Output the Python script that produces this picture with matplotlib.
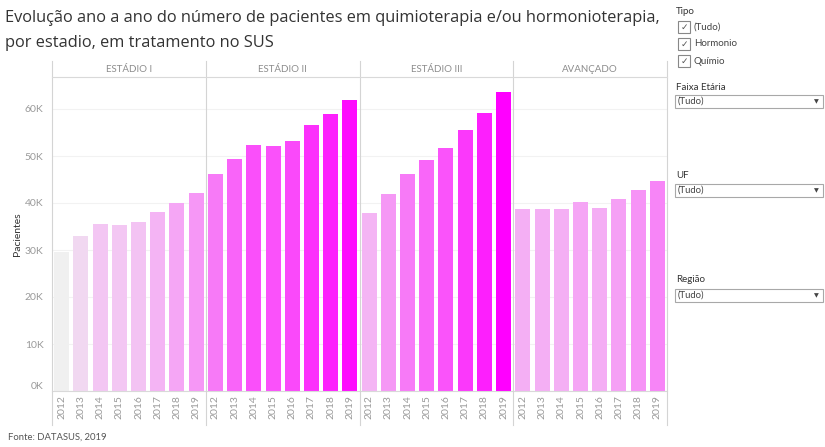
import matplotlib
matplotlib.use("Agg")
import matplotlib.pyplot as plt
import numpy as np
from matplotlib.colors import LinearSegmentedColormap, Normalize
from matplotlib.patches import Rectangle
from matplotlib.lines import Line2D

plt.rcParams['font.family'] = ['Lato', 'DejaVu Sans']

stages = ["ESTÁDIO I", "ESTÁDIO II", "ESTÁDIO III", "AVANÇADO"]
years = ["2012", "2013", "2014", "2015", "2016", "2017", "2018", "2019"]
estadio_1 = [29.5, 32.9, 35.5, 35.4, 36.0, 38.1, 40.1, 42.2]
estadio_2 = [46.2, 49.4, 52.3, 52.1, 53.2, 56.7, 58.9, 62.0]
estadio_3 = [37.9, 42.0, 46.2, 49.1, 51.8, 55.6, 59.1, 63.6]
avancado = [38.8, 38.8, 38.8, 40.2, 39.0, 40.9, 42.7, 44.7]
yticks = [0, 10, 20, 30, 40, 50, 60]
ytick_labels = ["0K", "10K", "20K", "30K", "40K", "50K", "60K"]

series = [estadio_1, estadio_2, estadio_3, avancado]
all_vals = np.concatenate([np.array(s) for s in series]) * 1000

W, H = 825, 447
fig = plt.figure(figsize=(W / 100, H / 100), dpi=100)

def fx(px):
    return px / W

def fy(py):
    return 1 - py / H

# Plot area
L, R, T, B = 52, 667, 77, 391
ax = fig.add_axes([fx(L), fy(B), fx(R) - fx(L), fy(T) - fy(B)])

cmap = LinearSegmentedColormap.from_list("tab", ["#f0f0f0", "#ff00ff"])
norm = Normalize(vmin=all_vals.min(), vmax=all_vals.max())

n = len(years)
for si, s in enumerate(series):
    xs = np.arange(n) + si * n
    vals = np.array(s) * 1000
    ax.bar(xs, vals, width=0.78, color=cmap(norm(vals)), edgecolor='none', zorder=2)

ax.set_xlim(-0.5, len(series) * n - 0.5)
ax.set_ylim(0, (B - T) / 4.7 * 1000)
ax.set_yticks([v * 1000 for v in yticks])
ax.set_yticklabels(ytick_labels)
ax.tick_params(axis='y', length=0, labelsize=7.5, labelcolor='#9a9a9a', pad=6)
ax.get_yticklabels()[0].set_va('bottom')
ax.yaxis.grid(True, color='#f2f2f2', linewidth=0.8, zorder=0)
ax.set_axisbelow(True)
ax.set_xticks(np.arange(len(series) * n))
ax.set_xticklabels(years * len(series), rotation=90)
ax.tick_params(axis='x', length=0, labelsize=7.5, labelcolor='#9a9a9a', pad=3)
for sp in ['top', 'right', 'left']:
    ax.spines[sp].set_visible(False)
ax.spines['bottom'].set_color('#d9d9d9')
ax.spines['bottom'].set_linewidth(0.8)
ax.set_ylabel("Pacientes", fontsize=7.5, color='#333333', labelpad=2)

# panel divider lines (figure coords), header band and year area
for k in range(len(series) + 1):
    xpx = L + k * (R - L) / len(series)
    fig.add_artist(Line2D([fx(xpx), fx(xpx)], [fy(61), fy(425)], color='#d4d4d4', lw=0.8))
fig.add_artist(Line2D([fx(L), fx(R)], [fy(T), fy(T)], color='#d9d9d9', lw=0.8))
for k, st in enumerate(stages):
    cx = L + (k + 0.5) * (R - L) / len(series)
    fig.text(fx(cx), fy(69.5), st, ha='center', va='center', fontsize=7, color='#8c8c8c')

# Title
fig.text(fx(5), fy(18), "Evolução ano a ano do número de pacientes em quimioterapia e/ou hormonioterapia,",
         fontsize=11.8, color='#333333', ha='left', va='center', family=['Open Sans', 'DejaVu Sans'])
fig.text(fx(5), fy(43), "por estadio, em tratamento no SUS",
         fontsize=11.8, color='#333333', ha='left', va='center', family=['Open Sans', 'DejaVu Sans'])

# Source
fig.text(fx(8), fy(437), "Fonte: DATASUS, 2019", fontsize=6.8, color='#555555', ha='left', va='center')

# Right filter panel
fig.text(fx(676), fy(11), "Tipo", fontsize=7, color='#333333', ha='left', va='center')
for i, lab in enumerate(["(Tudo)", "Hormonio", "Químio"]):
    cy = 27 + i * 17
    fig.add_artist(Rectangle((fx(678), fy(cy + 6)), fx(12), 12 / H, fill=False,
                             edgecolor='#888888', lw=0.8))
    fig.text(fx(684), fy(cy), "✓", fontsize=6.5, color='#555555', ha='center', va='center',
             family=['DejaVu Sans'])
    fig.text(fx(694), fy(cy), lab, fontsize=7, color='#444444', ha='left', va='center')

def dropdown(label, ly, by):
    fig.text(fx(676), fy(ly), label, fontsize=7, color='#333333', ha='left', va='center')
    fig.add_artist(Rectangle((fx(675), fy(by + 13)), fx(148), 13 / H, fill=False,
                             edgecolor='#a8a8a8', lw=0.8))
    fig.text(fx(678), fy(by + 6.5), "(Tudo)", fontsize=6.8, color='#444444', ha='left', va='center')
    fig.text(fx(816), fy(by + 6.5), "▼", fontsize=4.5, color='#444444', ha='center', va='center',
             family=['DejaVu Sans'])

dropdown("Faixa Etária", 87, 95)
dropdown("UF", 175, 184)
dropdown("Região", 280, 289)

fig.savefig("out.png", dpi=100)
